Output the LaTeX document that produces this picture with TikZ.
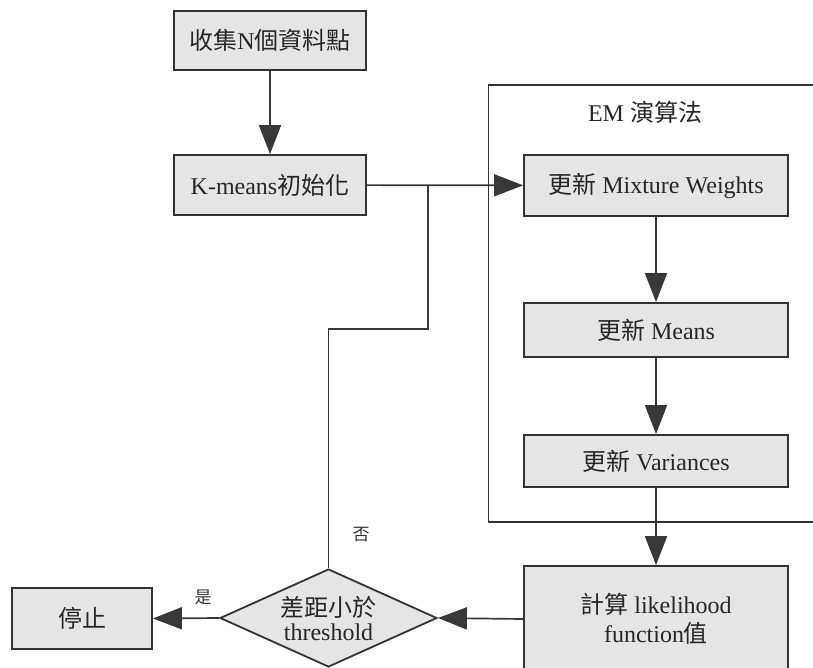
\documentclass[tikz,border=0pt]{standalone}
\usepackage{fontspec}
\setmainfont{Liberation Serif}
\newfontfamily\cjk{Noto Sans CJK TC}
\usetikzlibrary{arrows.meta,shapes.geometric}
\tikzset{
  box/.style={draw=black!80,line width=1.8pt,fill=black!10,inner sep=0pt,
    font=\fontsize{24}{27}\selectfont,text=black!85,align=center},
  conn/.style={draw=black!78,line width=1.7pt},
  arr/.style={conn,-{Triangle[length=29pt,width=22pt]}},
  lbl/.style={font=\fontsize{17}{19}\selectfont,text=black!80}
}
\begin{document}
\begin{tikzpicture}[x=1pt,y=-1pt]
\useasboundingbox (0,0) rectangle (813,667);
% EM frame
\draw[black!80,line width=1.7pt] (845,85) -- (488.5,85) -- (488.5,522) -- (845,522);
\node[font=\fontsize{24}{27}\selectfont,text=black!85] (emt) at (645,112) {EM {\cjk 演算法}};
% nodes
\node[box,minimum width=192pt,minimum height=59pt] (collect) at (270,40.5) {{\cjk 收集}N{\cjk 個資料點}};
\node[box,minimum width=192pt,minimum height=60pt] (kmeans) at (270,185) {K-means{\cjk 初始化}};
\node[box,minimum width=264pt,minimum height=61pt] (mw) at (656,185.5) {{\cjk 更新} Mixture Weights};
\node[box,minimum width=264pt,minimum height=54pt] (means) at (656,330) {{\cjk 更新} Means};
\node[box,minimum width=264pt,minimum height=52pt] (var) at (656,461) {{\cjk 更新} Variances};
\node[box,minimum width=264pt,minimum height=106pt] (lik) at (656,619) {{\cjk 計算} likelihood\\[2pt]function{\cjk 值}};
\node[box,diamond,aspect=2.2,minimum width=217pt,minimum height=98pt] (dec) at (328.5,618) {{\cjk 差距小於}\\[-3pt]threshold};
\node[box,minimum width=140pt,minimum height=61pt] (stop) at (82,618.5) {{\cjk 停止}};
\coordinate (j1) at (428,185);
\coordinate (j2) at (428,329);
\coordinate (j3) at (dec.north |- j2);
% connectors
\draw[arr] (collect) -- (kmeans);
\draw[arr] (kmeans) -- (mw);
\draw[arr] (mw) -- (means);
\draw[arr] (means) -- (var);
\draw[arr] (var) -- (lik);
\draw[arr] (lik.west) -- (dec.east);
\draw[arr] (dec.west) -- (stop.east);
\draw[conn] (dec.north) -- (j3) -- (j2) -- (j1);
% labels
\node[lbl] (yes) at (203,597) {\cjk 是};
\node[lbl] (no) at (361,535) {\cjk 否};
\end{tikzpicture}
\end{document}
